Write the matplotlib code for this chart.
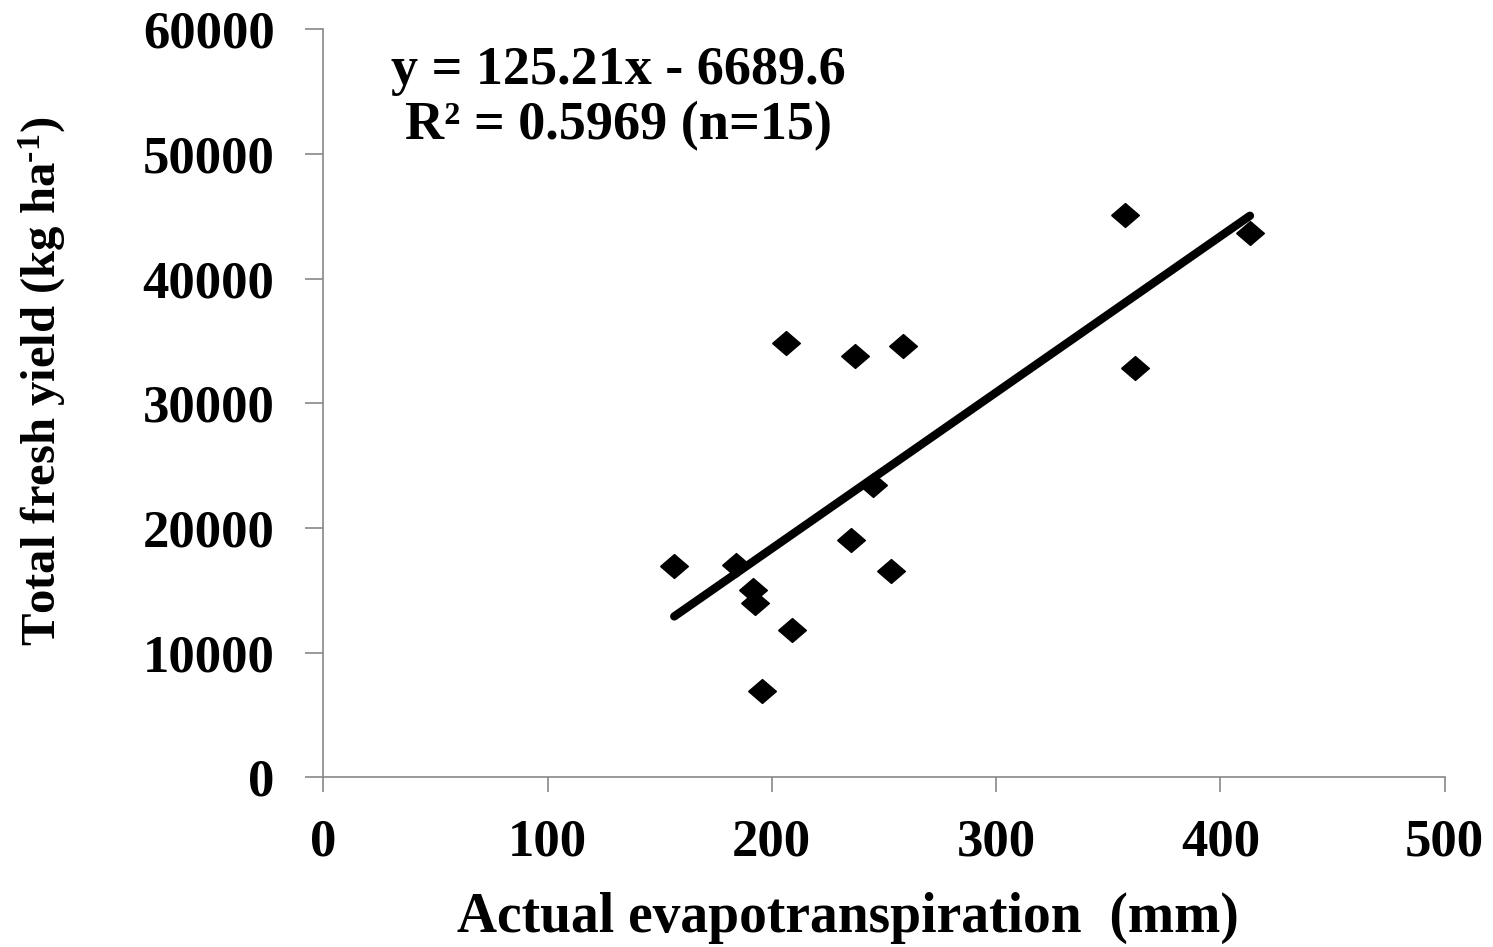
import matplotlib
matplotlib.use("Agg")
import matplotlib.pyplot as plt
import numpy as np

plt.rcParams['font.family'] = ['Liberation Serif', 'DejaVu Serif']
plt.rcParams['font.weight'] = 'bold'
plt.rcParams['mathtext.fontset'] = 'custom'
plt.rcParams['mathtext.rm'] = 'Liberation Serif:bold'
plt.rcParams['mathtext.bf'] = 'Liberation Serif:bold'
plt.rcParams['mathtext.it'] = 'Liberation Serif:bold'

# Data (actual evapotranspiration, mm; total fresh yield, kg/ha)
et_mm = [156.5, 184.0, 191.7, 192.5, 208.8, 195.5, 206.2, 237.1, 258.3,
         245.0, 235.3, 253.1, 357.4, 361.9, 413.2]
yield_kg = [16950, 17030, 15020, 13960, 11820, 6920, 34810, 33820, 34620,
            23450, 19030, 16550, 45100, 32860, 43680]
slope = 125.21
intercept = -6689.6
r2 = 0.5969
x_ticks = [0, 100, 200, 300, 400, 500]
y_ticks = [0, 10000, 20000, 30000, 40000, 50000, 60000]

fig = plt.figure(figsize=(14.93, 9.47), dpi=100)
ax = fig.add_axes([0.2165, 0.1792, 0.7511, 0.7898])

diamond = [(-1, 0), (0, 0.86), (1, 0), (0, -0.86), (-1, 0)]
ax.plot(et_mm, yield_kg, linestyle='none', marker=diamond, markersize=20,
        color='black', zorder=3)

xs = np.array([min(et_mm), max(et_mm)])
ax.plot(xs, slope * xs + intercept, color='black', linewidth=6,
        solid_capstyle='round', zorder=4)

ax.set_xlim(0, 500)
ax.set_ylim(0, 60000)
ax.set_xticks(x_ticks)
ax.set_yticks(y_ticks)
ax.set_xticklabels([str(t) for t in x_ticks])
ax.set_yticklabels([str(t) for t in y_ticks])

for s in ['top', 'right']:
    ax.spines[s].set_visible(False)
for s in ['left', 'bottom']:
    ax.spines[s].set_color('#878787')
    ax.spines[s].set_linewidth(1.2)

ax.tick_params(axis='y', direction='out', length=13, width=1.2, color='#878787',
               labelsize=38, pad=22)
ax.tick_params(axis='x', direction='out', length=11, width=1.2, color='#878787',
               labelsize=38, pad=19)
for lab in ax.get_xticklabels() + ax.get_yticklabels():
    lab.set_fontweight('bold')

ax.set_xlabel('Actual evapotranspiration  (mm)', fontsize=40, fontweight='bold',
              va='center')
ax.xaxis.set_label_coords(0.468, -0.188)
ax.set_ylabel('Total fresh yield (kg ha$^{\\text{-}1}$)', fontsize=35,
              fontweight='bold', va='center')
ax.yaxis.set_label_coords(-0.251, 0.53)

eq = f"y = {slope}x - {abs(intercept)}\nR\u00b2 = {r2} (n=15)"
ax.text(0.263, 0.978, eq, transform=ax.transAxes, ha='center', va='top',
        fontsize=39, fontweight='bold', linespacing=1.15)

fig.savefig('out.png', dpi=100)
